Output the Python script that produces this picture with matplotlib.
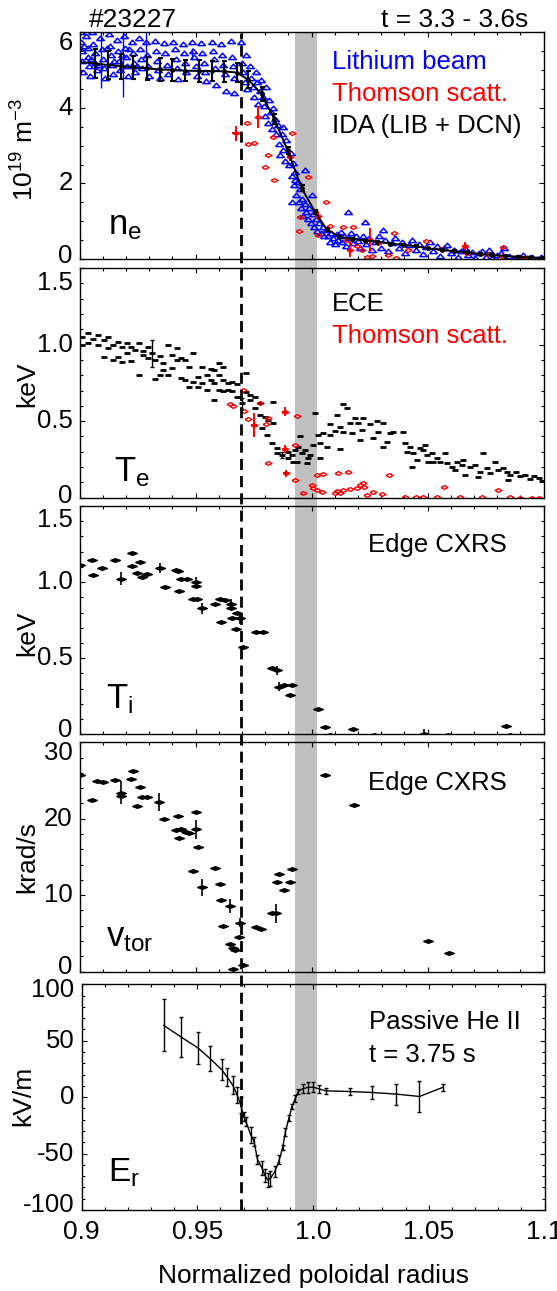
import matplotlib
matplotlib.use("Agg")
import matplotlib.pyplot as plt
import matplotlib.transforms as mtransforms
from matplotlib.patches import Rectangle
from matplotlib.lines import Line2D
from matplotlib.ticker import MultipleLocator

plt.rcParams['font.family'] = ['Liberation Sans', 'DejaVu Sans']
plt.rcParams['mathtext.fontset'] = 'custom'
plt.rcParams['mathtext.rm'] = 'Liberation Sans'
plt.rcParams['mathtext.it'] = 'Liberation Sans:italic'

# ---------------- data ----------------
rho_dashed = 0.9697          # vertical dashed line
band_lo, band_hi = 0.9927, 1.0024   # grey separatrix band

# n_e : lithium beam (x, y)
li_pts = [
    (0.9005, 6.00), (0.9008, 5.75), (0.9010, 5.50), (0.9012, 5.25), (0.9015, 4.95),
    (0.9020, 5.65), (0.9030, 5.90), (0.9035, 5.60), (0.9038, 5.35), (0.9040, 5.10),
    (0.9045, 4.85), (0.9050, 5.30), (0.9055, 6.02), (0.9060, 5.70), (0.9065, 5.45),
    (0.9068, 5.20), (0.9075, 5.00), (0.9085, 5.15), (0.9090, 5.85), (0.9095, 5.55),
    (0.9100, 5.30), (0.9105, 5.05), (0.9110, 4.80), (0.9118, 5.60), (0.9125, 5.95),
    (0.9130, 5.65), (0.9135, 5.40), (0.9140, 5.15), (0.9145, 4.90), (0.9150, 5.25),
    (0.9160, 5.80), (0.9165, 5.50), (0.9170, 5.25), (0.9175, 5.00), (0.9183, 5.40),
    (0.9190, 5.90), (0.9195, 5.60), (0.9200, 5.35), (0.9205, 5.10), (0.9210, 4.85),
    (0.9215, 5.55), (0.9225, 5.75), (0.9230, 5.45), (0.9235, 5.20), (0.9240, 4.95),
    (0.9248, 5.10), (0.9255, 5.85), (0.9260, 5.55), (0.9265, 5.30), (0.9270, 5.05),
    (0.9285, 5.75), (0.9290, 5.40), (0.9295, 5.10), (0.9300, 4.85),
    (0.9325, 5.78), (0.9330, 5.50), (0.9335, 5.25), (0.9340, 5.00), (0.9345, 4.80),
    (0.9365, 5.72), (0.9370, 5.45), (0.9375, 5.15), (0.9380, 4.90),
    (0.9405, 5.75), (0.9410, 5.55), (0.9415, 5.30), (0.9420, 5.05), (0.9425, 4.78),
    (0.9445, 5.70), (0.9450, 5.45), (0.9455, 5.20), (0.9460, 4.95),
    (0.9485, 5.76), (0.9490, 5.50), (0.9495, 5.35), (0.9500, 5.10), (0.9505, 4.85),
    (0.9525, 5.72), (0.9530, 5.45), (0.9535, 5.20), (0.9540, 4.95), (0.9545, 4.72),
    (0.9570, 5.74), (0.9575, 5.50), (0.9580, 5.30), (0.9585, 5.05), (0.9590, 4.60),
    (0.9610, 5.70), (0.9615, 5.40), (0.9620, 5.15), (0.9625, 4.90), (0.9630, 4.45),
    (0.9655, 5.78), (0.9658, 5.35), (0.9662, 5.10), (0.9665, 4.80), (0.9668, 4.40),
    (0.9695, 5.76), (0.9700, 5.20), (0.9705, 4.95), (0.9712, 4.70), (0.9718, 5.40),
    (0.9722, 4.50), (0.9735, 5.10), (0.9740, 4.80), (0.9748, 4.55), (0.9752, 4.30),
    (0.9760, 4.95), (0.9765, 4.70), (0.9770, 4.10), (0.9778, 4.45), (0.9782, 4.75),
    (0.9790, 4.30), (0.9795, 4.05), (0.9800, 3.80), (0.9805, 4.55), (0.9812, 3.60),
    (0.9818, 4.20), (0.9825, 3.90), (0.9830, 3.45), (0.9835, 4.00), (0.9842, 3.70),
    (0.9848, 3.30), (0.9855, 3.55), (0.9860, 3.05), (0.9865, 2.75), (0.9872, 3.30),
    (0.9875, 3.50), (0.9878, 2.90), (0.9885, 2.60), (0.9890, 3.15), (0.9905, 2.50),
    (0.9910, 2.80), (0.9914, 1.52), (0.9915, 2.20), (0.9920, 2.55), (0.9925, 1.95),
    (0.9929, 2.09), (0.9930, 2.30), (0.9935, 1.70), (0.9940, 2.05), (0.9945, 1.50),
    (0.9950, 1.85), (0.9955, 1.35), (0.9960, 1.60), (0.9965, 1.15), (0.9970, 1.45),
    (0.9972, 2.37), (0.9978, 1.25), (0.9985, 1.05), (0.9990, 1.35), (0.9998, 0.95),
    (1.0000, 1.70), (1.0005, 1.20), (1.0012, 0.85), (1.0018, 1.05), (1.0025, 0.75),
    (1.0032, 0.95), (1.0040, 0.70), (1.0048, 0.85), (1.0055, 0.62), (1.0062, 0.78),
    (1.0070, 0.60), (1.0078, 0.45), (1.0085, 0.70), (1.0092, 0.55), (1.0100, 0.40),
    (1.0108, 0.65), (1.0115, 0.50), (1.0125, 0.72), (1.0132, 0.45), (1.0140, 0.60),
    (1.0150, 0.35), (1.0159, 1.25), (1.0160, 0.55), (1.0170, 0.70), (1.0180, 0.42),
    (1.0190, 0.60), (1.0200, 0.48), (1.0210, 0.30), (1.0220, 0.62), (1.0230, 0.99),
    (1.0235, 0.40), (1.0250, 0.55), (1.0262, 0.25), (1.0275, 0.45), (1.0290, 0.60),
    (1.0300, 0.30), (1.0310, 0.77), (1.0315, 0.50), (1.0330, 0.20), (1.0345, 0.42),
    (1.0360, 0.55), (1.0375, 0.30), (1.0390, 0.45), (1.0405, 0.15), (1.0420, 0.38),
    (1.0435, 0.50), (1.0450, 0.25), (1.0465, 0.40), (1.0480, 0.12), (1.0495, 0.32),
    (1.0510, 0.45), (1.0525, 0.20), (1.0540, 0.35), (1.0555, 0.08), (1.0570, 0.28),
    (1.0585, 0.38), (1.0600, 0.15), (1.0615, 0.25), (1.0630, 0.05), (1.0645, 0.20),
    (1.0660, 0.30), (1.0675, 0.10), (1.0690, 0.18), (1.0705, 0.03), (1.0720, 0.15),
    (1.0735, 0.22), (1.0750, 0.06), (1.0765, 0.24), (1.0780, 0.02), (1.0800, 0.10),
    (1.0815, 0.15), (1.0830, 0.28), (1.0850, 0.08), (1.0870, 0.02), (1.0890, 0.06),
    (1.0910, 0.10), (1.0930, 0.02), (1.0950, 0.05), (1.0970, 0.01), (1.0990, 0.04),
]
li_bar_x = [0.9092, 0.9189, 0.9287, 0.9484]
li_bar_y = [5.30, 5.15, 5.65, 5.45]
li_bar_err = [0.76, 0.85, 0.42, 0.14]

# n_e : Thomson scattering (x, y)
ts_ne_pts = [
    (0.9673, 3.33), (0.9721, 3.59), (0.9768, 3.75), (0.9725, 3.05), (0.9754, 3.06),
    (0.9800, 2.45), (0.9814, 2.75), (0.9835, 3.22), (0.9840, 2.09), (0.9907, 2.71),
    (0.9914, 3.35), (0.9986, 2.18), (0.9951, 1.12), (0.9948, 0.75), (1.0063, 1.52),
    (1.0030, 1.15), (1.0030, 0.64), (1.0081, 0.87), (1.0135, 0.84), (1.0181, 0.84),
    (1.0152, 0.50), (1.0166, 0.24), (1.0216, 0.24), (1.0252, 0.50), (1.0238, 0.06),
    (1.0260, 0.08), (1.0288, 0.42), (1.0331, 0.11), (1.0355, 0.70), (1.0364, 0.02),
    (1.0417, 0.24), (1.0493, 0.49), (1.0560, 0.26), (1.0660, 0.34), (1.0669, 0.17),
    (1.0762, 0.13), (1.0826, 0.31), (1.0819, 0.08), (1.0920, 0.03), (1.0195, 0.35),
]
# (x, y, yerr, xerr)
ts_ne_bars = [
    (0.9673, 3.33, 0.20, 0.0015), (0.9768, 3.75, 0.29, 0.0), (0.9907, 2.71, 0.12, 0.0012),
    (1.0030, 1.15, 0.13, 0.0012), (1.0166, 0.24, 0.20, 0.0012), (1.0252, 0.50, 0.32, 0.0),
    (1.0660, 0.34, 0.10, 0.0012), (1.0920, 0.03, 0.06, 0.0012),
]

# n_e : IDA profile
ida_x = [0.9007, 0.9067, 0.9121, 0.9179, 0.9232, 0.9290, 0.9347, 0.9400, 0.9455, 0.9513,
         0.9570, 0.9624, 0.9677, 0.9728, 0.9785, 0.9840, 0.9897, 0.9958, 1.0015, 1.0065,
         1.0120, 1.0173, 1.0230, 1.0284, 1.0338, 1.0396, 1.0450, 1.0504, 1.0561, 1.0614,
         1.0669, 1.0726, 1.0776, 1.0834, 1.0888, 1.0942, 1.0996]
ida_y = [5.21, 5.18, 5.14, 5.11, 5.08, 5.05, 5.02, 5.01, 4.99, 4.98,
         4.98, 4.97, 4.94, 4.75, 4.37, 3.70, 2.88, 1.87, 1.25, 0.79,
         0.59, 0.53, 0.49, 0.46, 0.41, 0.37, 0.34, 0.28, 0.24, 0.21,
         0.18, 0.13, 0.11, 0.08, 0.06, 0.04, 0.03]
ida_err = [0.00, 0.38, 0.36, 0.33, 0.31, 0.30, 0.30, 0.29, 0.28, 0.28,
           0.27, 0.27, 0.26, 0.22, 0.18, 0.13, 0.10, 0.08, 0.06, 0.04,
           0.03, 0.02, 0.02, 0.02, 0.02, 0.02, 0.02, 0.02, 0.02, 0.02,
           0.02, 0.02, 0.02, 0.02, 0.02, 0.02, 0.02]

# T_e : ECE (x, y)
ece_pts = [
    (0.9009, 1.050), (0.9009, 0.997), (0.9038, 1.073), (0.9038, 1.008), (0.9060, 1.034),
    (0.9081, 1.062), (0.9081, 0.997), (0.9107, 1.030), (0.9107, 0.920), (0.9124, 1.047),
    (0.9124, 0.975), (0.9146, 0.997), (0.9146, 0.899), (0.9165, 1.019), (0.9165, 0.921),
    (0.9182, 0.986), (0.9182, 0.888), (0.9203, 1.012), (0.9203, 0.943), (0.9222, 0.986),
    (0.9222, 0.893), (0.9239, 0.964), (0.9257, 1.012), (0.9257, 0.801), (0.9275, 0.960),
    (0.9275, 0.932), (0.9294, 0.986), (0.9294, 0.910), (0.9314, 0.943), (0.9326, 0.899),
    (0.9326, 0.773), (0.9347, 0.925), (0.9347, 0.801), (0.9361, 0.877), (0.9361, 0.834),
    (0.9383, 0.997), (0.9383, 0.801), (0.9400, 0.932), (0.9400, 0.845), (0.9419, 0.975),
    (0.9419, 0.899), (0.9438, 0.910), (0.9438, 0.779), (0.9455, 0.899), (0.9455, 0.768),
    (0.9472, 0.856), (0.9472, 0.721), (0.9491, 0.943), (0.9491, 0.757), (0.9509, 0.790),
    (0.9509, 0.721), (0.9527, 0.856), (0.9527, 0.751), (0.9548, 0.801), (0.9548, 0.703),
    (0.9567, 0.838), (0.9567, 0.768), (0.9581, 0.834), (0.9581, 0.747), (0.9581, 0.638),
    (0.9601, 0.877), (0.9601, 0.801), (0.9601, 0.703), (0.9620, 0.856), (0.9620, 0.768),
    (0.9620, 0.699), (0.9642, 0.747), (0.9642, 0.703), (0.9659, 0.757), (0.9659, 0.699),
    (0.9677, 0.742), (0.9677, 0.660), (0.9699, 0.616), (0.9716, 0.812), (0.9716, 0.692),
    (0.9735, 0.670), (0.9735, 0.638), (0.9757, 0.660), (0.9757, 0.584), (0.9778, 0.616),
    (0.9778, 0.540), (0.9800, 0.529), (0.9814, 0.507), (0.9835, 0.627), (0.9835, 0.486),
    (0.9786, 0.453), (0.9807, 0.410), (0.9828, 0.355), (0.9850, 0.323), (0.9850, 0.290),
    (0.9872, 0.279), (0.9900, 0.301), (0.9900, 0.257), (0.9922, 0.236), (0.9915, 0.279),
    (0.9929, 0.311), (0.9943, 0.333), (0.9958, 0.290), (0.9972, 0.311), (0.9987, 0.257),
    (0.9951, 0.400), (0.9936, 0.235), (0.9979, 0.224), (0.9994, 0.279), (1.0015, 0.551),
    (1.0008, 0.344), (1.0030, 0.409), (1.0051, 0.420), (1.0037, 0.355), (1.0066, 0.333),
    (1.0037, 0.257), (1.0080, 0.481), (1.0102, 0.438), (1.0123, 0.464), (1.0134, 0.612),
    (1.0137, 0.427), (1.0108, 0.540), (1.0123, 0.316), (1.0080, 0.410), (1.0152, 0.584),
    (1.0166, 0.490), (1.0188, 0.518), (1.0202, 0.486), (1.0217, 0.442), (1.0210, 0.377),
    (1.0174, 0.420), (1.0224, 0.518), (1.0252, 0.481), (1.0281, 0.503), (1.0310, 0.486),
    (1.0288, 0.431), (1.0324, 0.366), (1.0338, 0.420), (1.0353, 0.431), (1.0310, 0.333),
    (1.0267, 0.388), (1.0396, 0.431), (1.0403, 0.355), (1.0425, 0.333), (1.0410, 0.301),
    (1.0439, 0.290), (1.0468, 0.322), (1.0490, 0.344), (1.0432, 0.203), (1.0454, 0.246),
    (1.0482, 0.311), (1.0497, 0.279), (1.0518, 0.290), (1.0540, 0.257), (1.0525, 0.235),
    (1.0504, 0.235), (1.0554, 0.235), (1.0576, 0.290), (1.0583, 0.224), (1.0604, 0.203),
    (1.0626, 0.235), (1.0648, 0.213), (1.0655, 0.246), (1.0619, 0.181), (1.0662, 0.148),
    (1.0683, 0.203), (1.0705, 0.213), (1.0741, 0.290), (1.0726, 0.170), (1.0755, 0.192),
    (1.0769, 0.159), (1.0719, 0.137), (1.0791, 0.235), (1.0805, 0.181), (1.0827, 0.192),
    (1.0841, 0.170), (1.0849, 0.115), (1.0856, 0.148), (1.0880, 0.170), (1.0900, 0.140),
    (1.0920, 0.150), (1.0940, 0.120), (1.0960, 0.140), (1.0980, 0.130), (1.0995, 0.110),
]
ece_bars = [(0.9314, 0.943, 0.09), (0.9699, 0.616, 0.035), (0.9872, 0.279, 0.02)]

# T_e : Thomson scattering (x, y)
ts_te_pts = [
    (0.9706, 0.703), (0.9649, 0.612), (0.9663, 0.599), (0.9710, 0.568), (0.9728, 0.514),
    (0.9753, 0.475), (0.9778, 0.616), (0.9803, 0.479), (0.9814, 0.518), (0.9886, 0.562),
    (0.9886, 0.318), (0.9890, 0.159), (0.9814, 0.225), (0.9936, 0.535), (0.9929, 0.344),
    (0.9929, 0.115), (0.9965, 0.033), (1.0001, 0.083), (1.0022, 0.148), (1.0051, 0.155),
    (1.0022, 0.050), (1.0044, 0.040), (1.0008, 0.061), (1.0116, 0.159), (1.0159, 0.170),
    (1.0109, 0.046), (1.0123, 0.033), (1.0102, 0.028), (1.0137, 0.050), (1.0166, 0.055),
    (1.0195, 0.061), (1.0209, 0.083), (1.0221, 0.098), (1.0227, 0.068), (1.0238, 0.017),
    (1.0267, 0.039), (1.0303, 0.024), (1.0336, 0.148), (1.0403, 0.007), (1.0450, 0.007),
    (1.0482, 0.007), (1.0540, 0.007), (1.0572, 0.068), (1.0641, 0.007), (1.0733, 0.007),
    (1.0805, 0.050), (1.0856, 0.002), (1.0900, 0.000), (1.0950, 0.000), (1.0980, 0.000),
]
ts_te_bars = [(0.9753, 0.475, 0.08, 0.0012), (0.9886, 0.562, 0.03, 0.0012),
              (0.9886, 0.318, 0.025, 0.0012), (0.9890, 0.159, 0.025, 0.0012)]

# T_i : edge CXRS (x, y)
ti_pts = [
    (0.9000, 1.115), (0.9054, 1.148), (0.9060, 1.045), (0.9097, 1.093), (0.9154, 1.144),
    (0.9180, 1.023), (0.9228, 1.192), (0.9228, 1.107), (0.9259, 1.133), (0.9246, 1.061),
    (0.9270, 1.034), (0.9290, 1.052), (0.9346, 1.093), (0.9370, 0.969), (0.9415, 1.078),
    (0.9423, 1.070), (0.9430, 0.940), (0.9438, 1.023), (0.9464, 1.019), (0.9502, 1.000),
    (0.9502, 0.973), (0.9490, 0.892), (0.9507, 0.886), (0.9530, 0.827), (0.9584, 0.855),
    (0.9607, 0.886), (0.9625, 0.881), (0.9653, 0.859), (0.9653, 0.827), (0.9610, 0.739),
    (0.9657, 0.761), (0.9679, 0.794), (0.9691, 0.761), (0.9673, 0.695), (0.9706, 0.571),
    (0.9760, 0.673), (0.9790, 0.669), (0.9830, 0.437), (0.9852, 0.422), (0.9860, 0.313),
    (0.9883, 0.324), (0.9914, 0.324), (0.9906, 0.258), (1.0030, 0.164), (1.0060, 0.050),
    (1.0178, 0.035), (1.0840, 0.055), (1.0080, -0.005), (1.0270, -0.005), (1.0487, 0.005),
    (1.0589, -0.005), (1.0857, -0.005),
]
ti_bars = [(0.9180, 1.023, 0.045), (0.9346, 1.093, 0.035), (0.9502, 1.000, 0.035),
           (0.9530, 0.827, 0.035), (0.9653, 0.859, 0.030), (0.9691, 0.761, 0.035),
           (0.9852, 0.422, 0.030), (0.9860, 0.313, 0.030), (1.0487, 0.005, 0.030)]

# v_tor : edge CXRS (x, y)
vt_pts = [
    (0.9000, 25.7), (0.9054, 22.4), (0.9074, 24.9), (0.9100, 24.8), (0.9154, 25.1),
    (0.9177, 23.4), (0.9180, 23.0), (0.9223, 25.2), (0.9230, 26.2), (0.9259, 24.2),
    (0.9246, 21.6), (0.9270, 22.8), (0.9290, 22.8), (0.9343, 22.2), (0.9366, 19.9),
    (0.9423, 20.3), (0.9415, 18.5), (0.9438, 18.7), (0.9461, 18.2), (0.9470, 18.1),
    (0.9430, 17.5), (0.9502, 20.9), (0.9504, 18.6), (0.9510, 16.3), (0.9490, 13.1),
    (0.9527, 11.0), (0.9584, 13.6), (0.9607, 11.5), (0.9610, 9.3), (0.9650, 8.6),
    (0.9617, 5.9), (0.9650, 3.6), (0.9660, 3.1), (0.9670, 2.75), (0.9691, 6.4),
    (0.9688, 4.5), (0.9660, 0.35), (0.9706, 0.9), (0.9760, 5.8), (0.9783, 5.6),
    (0.9830, 7.7), (0.9845, 7.6), (0.9852, 11.7), (0.9860, 12.7), (0.9880, 10.7),
    (0.9906, 11.7), (0.9914, 13.4), (1.0060, 25.7), (1.0185, 21.8), (1.0500, 4.0),
    (1.0593, 2.45),
]
vt_bars = [(0.9177, 23.4, 1.5), (0.9343, 22.2, 1.2), (0.9504, 18.6, 1.2), (0.9527, 11.0, 1.1),
           (0.9650, 8.6, 0.9), (0.9691, 6.4, 0.6), (0.9845, 7.6, 1.3)]

# E_r : passive He II
er_x = [0.9355, 0.9430, 0.9504, 0.9556, 0.9606, 0.9630, 0.9654, 0.9672, 0.9688, 0.9700,
        0.9710, 0.9731, 0.9745, 0.9760, 0.9780, 0.9793, 0.9804, 0.9816, 0.9835, 0.9855,
        0.9869, 0.9881, 0.9896, 0.9909, 0.9924, 0.9937, 0.9955, 0.9977, 1.0000, 1.0025,
        1.0054, 1.0159, 1.0257, 1.0360, 1.0460, 1.0560]
er_y = [63.6, 53.3, 43.5, 34.0, 24.3, 17.5, 10.4, 2.0, -6.8, -17.0,
        -21.6, -33.4, -39.0, -55.0, -63.0, -69.5, -73.4, -72.0, -66.0, -55.0,
        -44.7, -30.5, -18.6, -8.3, -0.9, 5.0, 7.4, 8.6, 8.9, 7.4,
        5.6, 5.0, 4.1, 2.7, 0.6, 8.6]
er_err = [23, 18, 14, 11, 9.3, 8, 8, 7, 7, 4,
          4, 7, 4, 4, 6, 6, 6, 7, 5, 4,
          2.5, 3.5, 2.5, 2.5, 3, 2.5, 4, 5, 4.4, 3.8,
          2.5, 3.3, 6, 9.3, 13.6, 3]

# axis ticks
ne_ticks, ne_labels = [0, 2, 4, 6], ['0', '2', '4', '6']
te_ticks, te_labels = [0, 0.5, 1.0, 1.5], ['0', '0.5', '1.0', '1.5']
vt_ticks, vt_labels = [0, 10, 20, 30], ['0', '10', '20', '30']
er_ticks, er_labels = [-100, -50, 0, 50, 100], ['-100', '-50', '0', '50', '100']
x_ticks, x_labels = [0.9, 0.95, 1.0, 1.05, 1.1], ['0.9', '0.95', '1.0', '1.05', '1.1']

# ---------------- figure ----------------
W, H = 557, 1291
fig = plt.figure(figsize=(W / 100, H / 100), dpi=100)

def px_axes(l, t, r, b):
    return fig.add_axes([l / W, 1 - b / H, (r - l) / W, (b - t) / H])

ax1 = px_axes(79.5, 32.5, 543.5, 259.0)
ax2 = px_axes(79.5, 268.0, 543.5, 497.7)
ax3 = px_axes(79.5, 506.0, 543.5, 734.3)
ax4 = px_axes(79.5, 742.3, 543.5, 971.5)
ax5 = px_axes(81.5, 984.3, 544.5, 1210.0)
axes = [ax1, ax2, ax3, ax4, ax5]

ylims = [(0, 6), (0, 1.5), (0, 1.5), (0, 30), (-100, 100)]
yminor = [0.5, 0.1, 0.1, 2, 10]
yticks = [(ne_ticks, ne_labels), (te_ticks, te_labels), (te_ticks, te_labels),
          (vt_ticks, vt_labels), (er_ticks, er_labels)]
top_shift = [11, 15, 14, 11, 6]    # px the top tick label sits below the frame
bot_shift = [3, 2, 4, 5, 5]        # px the bottom tick label sits above

for ax, yl, ym, (tv, tl), ts, bs in zip(axes, ylims, yminor, yticks, top_shift, bot_shift):
    ax.set_facecolor('none')
    ax.set_xlim(0.9, 1.1)
    ax.set_ylim(*yl)
    ax.xaxis.set_major_locator(MultipleLocator(0.05))
    ax.xaxis.set_minor_locator(MultipleLocator(0.01))
    ax.set_yticks(tv)
    ax.yaxis.set_minor_locator(MultipleLocator(ym))
    ax.tick_params(which='both', direction='in', top=True, right=True,
                   labelleft=False, labelbottom=False, width=0.8, color='black')
    ax.tick_params(which='major', length=3.8)
    ax.tick_params(which='minor', length=2.0)
    for s in ax.spines.values():
        s.set_linewidth(1.0)
    # y tick labels drawn by hand so the end labels can sit inside the frame
    tr = ax.get_yaxis_transform()
    for i, (v, lab) in enumerate(zip(tv, tl)):
        dy = 0
        if i == len(tv) - 1:
            dy = -ts
        elif i == 0:
            dy = bs
        t = tr + mtransforms.ScaledTranslation(-7 / 100, dy / 100, fig.dpi_scale_trans)
        ax.text(0, v, lab, transform=t, ha='right', va='center', fontsize=18.5)

ax5.set_xticks(x_ticks)
ax5.set_xticklabels(x_labels)
ax5.tick_params(labelbottom=True, labelsize=19, pad=7)

# grey band and dashed line spanning all panels
blend = mtransforms.blended_transform_factory(ax1.transData, fig.transFigure)
y_top = 1 - 32.5 / H
y_bot = 1 - 1210.0 / H
fig.add_artist(Rectangle((band_lo, y_bot), band_hi - band_lo, y_top - y_bot,
                         transform=blend, facecolor='#c0c0c0', edgecolor='none', zorder=-1))
fig.add_artist(Line2D([rho_dashed, rho_dashed], [y_bot, y_top], transform=blend,
                      color='black', lw=2.0, linestyle=(0, (4, 2.2)), zorder=5))

tri = [(-1, -0.55), (1, -0.55), (0, 0.6), (-1, -0.55)]
dia = [(-1, 0), (0, 0.55), (1, 0), (0, -0.55), (-1, 0)]
fdia = [(-1, 0), (0, 0.38), (1, 0), (0, -0.38), (-1, 0)]

# ---- n_e ----
lx, ly = zip(*li_pts)
ax1.plot(lx, ly, linestyle='none', marker=tri, ms=5.5, mfc='none', mec='#0000ff', mew=1.1)
ax1.errorbar(li_bar_x, li_bar_y, yerr=li_bar_err, fmt='none', ecolor='#0000ff', elinewidth=1.0)
tx, ty = zip(*ts_ne_pts)
ax1.plot(tx, ty, linestyle='none', marker=dia, ms=5, mfc='none', mec='#ff0000', mew=1.0)
bx, by, bye, bxe = zip(*ts_ne_bars)
ax1.errorbar(bx, by, yerr=bye, xerr=bxe, fmt='none', ecolor='#ff0000', elinewidth=1.4)
ax1.plot(ida_x, ida_y, color='black', lw=1.4)
ax1.errorbar(ida_x[1:], ida_y[1:], yerr=ida_err[1:], fmt='o', ms=2.4, color='black',
             elinewidth=1.5, capsize=1.8, capthick=1.5)

# ---- T_e ----
ex, ey = zip(*ece_pts)
ax2.plot(ex, ey, linestyle='none', marker='_', ms=4.0, mew=2.0, color='black')
bx, by, bye = zip(*ece_bars)
ax2.errorbar(bx, by, yerr=bye, fmt='none', ecolor='black', elinewidth=1.0, capsize=1.2)
tx, ty = zip(*ts_te_pts)
ax2.plot(tx, ty, linestyle='none', marker=dia, ms=5, mfc='none', mec='#ff0000', mew=1.0)
bx, by, bye, bxe = zip(*ts_te_bars)
ax2.errorbar(bx, by, yerr=bye, xerr=bxe, fmt='none', ecolor='#ff0000', elinewidth=1.4)

# ---- T_i ----
px_, py_ = zip(*ti_pts)
ax3.plot(px_, py_, linestyle='none', marker=fdia, ms=7, color='black')
bx, by, bye = zip(*ti_bars)
ax3.errorbar(bx, by, yerr=bye, fmt='none', ecolor='black', elinewidth=1.2)

# ---- v_tor ----
px_, py_ = zip(*vt_pts)
ax4.plot(px_, py_, linestyle='none', marker=fdia, ms=7, color='black')
bx, by, bye = zip(*vt_bars)
ax4.errorbar(bx, by, yerr=bye, fmt='none', ecolor='black', elinewidth=1.2)

# ---- E_r ----
ax5.errorbar(er_x, er_y, yerr=er_err, color='black', lw=1.0, elinewidth=1.0,
             capsize=1.4, capthick=1.0)

# ---- panel texts ----
ann = 18.5
ax1.text(0.544, 0.841, 'Lithium beam', color='#0000ff', fontsize=ann, transform=ax1.transAxes)
ax1.text(0.544, 0.699, 'Thomson scatt.', color='#ff0000', fontsize=ann, transform=ax1.transAxes)
ax1.text(0.544, 0.555, 'IDA (LIB + DCN)', color='black', fontsize=ann, transform=ax1.transAxes)
ax2.text(0.544, 0.811, 'ECE', color='black', fontsize=ann, transform=ax2.transAxes)
ax2.text(0.544, 0.673, 'Thomson scatt.', color='#ff0000', fontsize=ann, transform=ax2.transAxes)
ax3.text(0.621, 0.797, 'Edge CXRS', fontsize=ann, transform=ax3.transAxes)
ax4.text(0.621, 0.792, 'Edge CXRS', fontsize=ann, transform=ax4.transAxes)
ax5.text(0.622, 0.802, 'Passive He II', fontsize=ann, transform=ax5.transAxes)
ax5.text(0.622, 0.654, 't = 3.75 s', fontsize=ann, transform=ax5.transAxes)

ax1.text(0.061, 0.107, r'$\mathregular{n_e}$', fontsize=25, transform=ax1.transAxes)
ax2.text(0.074, 0.070, r'$\mathregular{T_e}$', fontsize=25, transform=ax2.transAxes)
ax3.text(0.057, 0.114, r'$\mathregular{T_i}$', fontsize=25, transform=ax3.transAxes)
ax4.text(0.057, 0.110, r'$\mathregular{v_{tor}}$', fontsize=25, transform=ax4.transAxes)
ax5.text(0.058, 0.126, r'$\mathregular{E_r}$', fontsize=24, transform=ax5.transAxes)

# y axis titles
ylabs = [(r'10$^{19}$ m$^{-3}$', 150), ('keV', 384), ('keV', 633), ('krad/s', 857), ('kV/m', 1096)]
for i, (lab, yc) in enumerate(ylabs):
    xb = 30 if i == 4 else 34
    fig.text(xb / W, 1 - yc / H, lab, rotation=90, rotation_mode='anchor',
             ha='center', va='baseline', fontsize=19)

fig.text(88.7 / W, 1 - 26.7 / H, '#23227', fontsize=19, va='baseline')
fig.text(528.4 / W, 1 - 26.7 / H, 't = 3.3 - 3.6s', fontsize=19, va='baseline', ha='right')
fig.text(313 / W, 1 - 1283 / H, 'Normalized poloidal radius', fontsize=19,
         va='baseline', ha='center')

fig.savefig('out.png', dpi=100)
